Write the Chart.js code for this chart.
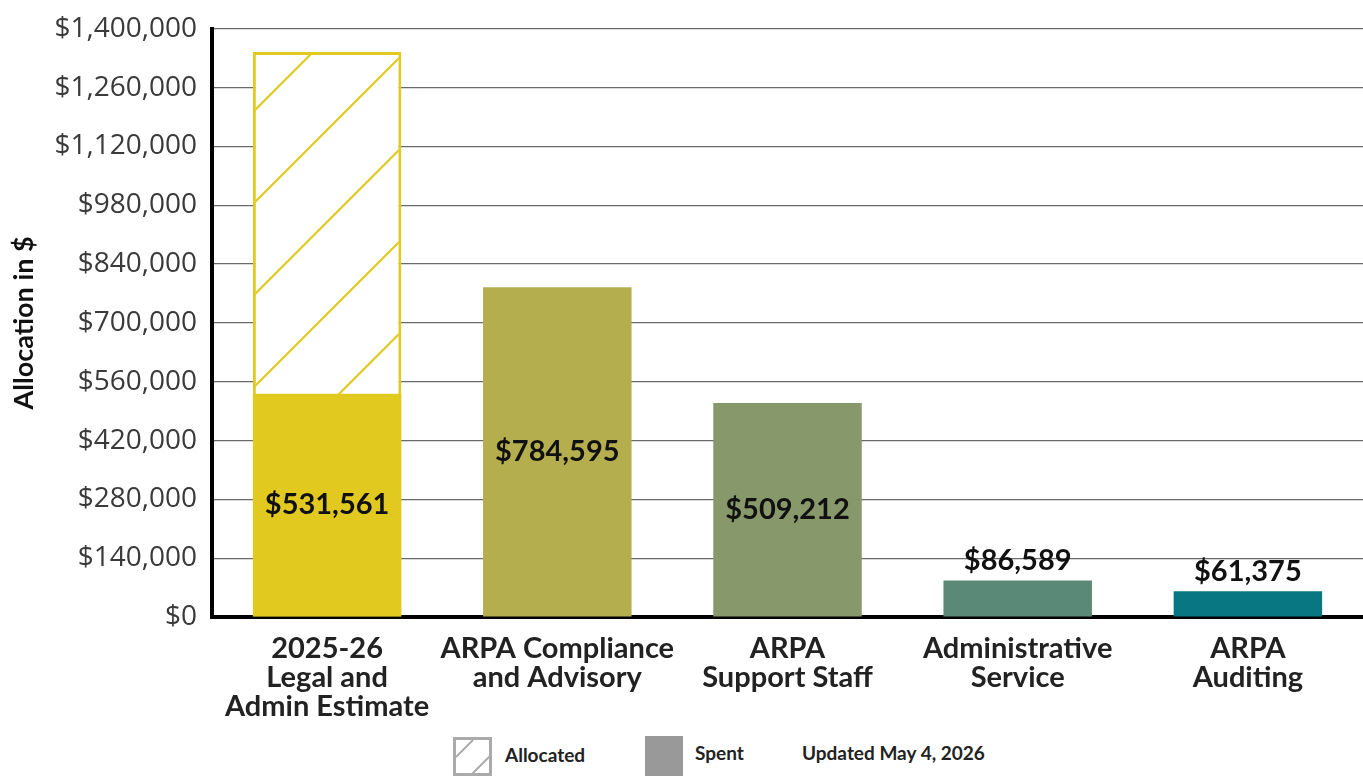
<!DOCTYPE html>
<html>
<head>
    <title>ARPA Allocation</title>
    <script src="https://cdn.jsdelivr.net/npm/chart.js@4.4.1/dist/chart.umd.min.js"></script>
    <style>
        body { margin: 0; background: #fff; font-family: Lato, "Open Sans", sans-serif; overflow: hidden; }
        .wrap { position: relative; width: 1363px; height: 776px; overflow: hidden; }
        .chart-box { position: absolute; left: 0; top: -3px; width: 1363px; height: 733px; }
        .legend-item { position: absolute; font-weight: bold; font-size: 19px; color: #222; }
    </style>
</head>
<body>
<div class="wrap">
    <div class="chart-box"><canvas id="chart"></canvas></div>

    <svg class="legend-item" style="left:453px; top:737px;" width="39" height="39">
        <rect x="1.5" y="1.5" width="36" height="36" fill="#fff" stroke="#aaa" stroke-width="3"/>
        <line x1="3" y1="20" x2="20" y2="3" stroke="#aaa" stroke-width="2"/>
        <line x1="19" y1="37" x2="37" y2="19" stroke="#aaa" stroke-width="2"/>
    </svg>
    <div class="legend-item" style="left:505px; top:743px;">Allocated</div>
    <div class="legend-item" style="left:645px; top:736px; width:38px; height:40px; background:#999;"></div>
    <div class="legend-item" style="left:695px; top:741px;">Spent</div>
    <div class="legend-item" style="left:802px; top:741px;">Updated May 4, 2026</div>
</div>

<script>
    // chart data
    const categories = [
        ['2025-26', 'Legal and', 'Admin Estimate'],
        ['ARPA Compliance', 'and Advisory'],
        ['ARPA', 'Support Staff'],
        ['Administrative', 'Service'],
        ['ARPA', 'Auditing']
    ];
    const spent = [531561, 784595, 509212, 86589, 61375];
    const allocated = [1345000, null, null, null, null];
    const barColors = ['#E1C920', '#B5AE4F', '#87996A', '#5A8A77', '#087782'];
    const yMax = 1400000;
    const yStep = 140000;

    const money = v => '$' + Math.round(v).toLocaleString('en-US');

    // diagonal hatch for the allocated bar
    function makeHatch() {
        const s = 92;
        const c = document.createElement('canvas');
        c.width = s; c.height = s;
        const g = c.getContext('2d');
        g.fillStyle = '#fff';
        g.fillRect(0, 0, s, s);
        g.strokeStyle = '#E1C920';
        g.lineWidth = 2.2;
        g.beginPath();
        g.moveTo(-2, s + 2); g.lineTo(s + 2, -2);
        g.moveTo(-2, 2); g.lineTo(2, -2);
        g.moveTo(s - 2, s + 2); g.lineTo(s + 2, s - 2);
        g.stroke();
        return g.createPattern(c, 'repeat');
    }

    // value labels on the spent bars
    const valueLabels = {
        id: 'valueLabels',
        afterDatasetsDraw(chart) {
            const ctx = chart.ctx;
            const meta = chart.getDatasetMeta(0);
            ctx.save();
            ctx.font = 'bold 29px Lato, "Open Sans", sans-serif';
            ctx.fillStyle = '#111';
            ctx.textAlign = 'center';
            meta.data.forEach((bar, i) => {
                const h = bar.base - bar.y;
                if (h > 80) {
                    ctx.textBaseline = 'middle';
                    ctx.fillText(money(spent[i]), bar.x, bar.y + h / 2);
                } else {
                    ctx.textBaseline = 'bottom';
                    ctx.fillText(money(spent[i]), bar.x, bar.y - 5);
                }
            });
            ctx.restore();
        }
    };

    new Chart(document.getElementById('chart'), {
        type: 'bar',
        data: {
            labels: categories,
            datasets: [
                {
                    label: 'Spent',
                    data: spent,
                    backgroundColor: barColors,
                    borderWidth: 0,
                    grouped: false,
                    barPercentage: 0.645,
                    categoryPercentage: 1
                },
                {
                    label: 'Allocated',
                    data: allocated,
                    backgroundColor: makeHatch(),
                    borderColor: '#E1C920',
                    borderWidth: 3,
                    borderSkipped: false,
                    grouped: false,
                    barPercentage: 0.645,
                    categoryPercentage: 1
                }
            ]
        },
        options: {
            responsive: true,
            maintainAspectRatio: false,
            animation: false,
            layout: { padding: { top: 24, right: 0, bottom: 0, left: 0 } },
            plugins: {
                legend: { display: false },
                tooltip: { enabled: false }
            },
            scales: {
                x: {
                    grid: { display: false, drawTicks: false },
                    border: { color: '#000', width: 4 },
                    ticks: {
                        color: '#222',
                        padding: 17,
                        maxRotation: 0,
                        autoSkip: false,
                        font: { family: 'Lato, "Open Sans", sans-serif', size: 29, weight: 'bold', lineHeight: 1.0 }
                    },
                    afterFit(scale) { scale.height = 113; }
                },
                y: {
                    min: 0,
                    max: yMax,
                    grid: { color: '#6a6a6a', lineWidth: 1.2, drawTicks: false },
                    border: { color: '#000', width: 4 },
                    ticks: {
                        stepSize: yStep,
                        color: '#3a3a3a',
                        padding: 15,
                        callback: v => money(v),
                        font: { family: '"Open Sans", Lato, sans-serif', size: 28 }
                    },
                    title: {
                        display: true,
                        text: 'Allocation in $',
                        color: '#111',
                        padding: { top: 8, bottom: 0 },
                        font: { family: 'Lato, "Open Sans", sans-serif', size: 27, weight: 'bold' }
                    },
                    afterFit(scale) { scale.width = 212; }
                }
            }
        },
        plugins: [valueLabels]
    });
</script>
</body>
</html>
